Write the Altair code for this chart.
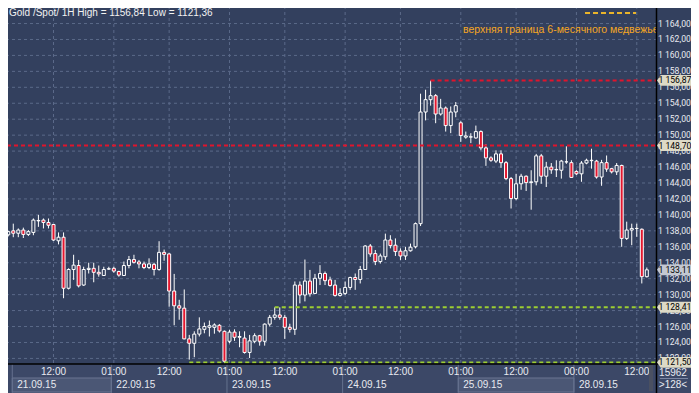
import altair as alt
import pandas as pd

# ---------------- data (hourly candles) ----------------
opens = [1137.5, 1138.0, 1137.7, 1138.1, 1137.55, 1137.8, 1139.25, 1139.35, 1139.05, 1138.8,
         1136.75, 1137.2, 1130.8, 1133.15, 1133.65, 1131.2, 1133.15, 1133.3, 1132.8, 1132.4,
         1133.2, 1133.3, 1132.9, 1132.4, 1133.65, 1134.4, 1134.1, 1133.85, 1133.4, 1133.8,
         1133.15, 1135.3, 1135.1, 1130.45, 1128.6, 1128.3, 1124.45, 1123.9, 1125.05, 1125.65,
         1125.9, 1125.9, 1126.15, 1125.4, 1124.15, 1125.3, 1124.65, 1124.55, 1122.75, 1124.15,
         1124.85, 1124.15, 1126.3, 1127.15, 1127.45, 1127.15, 1125.9, 1125.65, 1131.2, 1129.95,
         1131.7, 1130.15, 1132.05, 1132.65, 1131.85, 1131.2, 1129.9, 1130.15, 1130.9, 1132.15,
         1131.9, 1133.15, 1136.1, 1135.15, 1134.15, 1134.75, 1136.85, 1136.2, 1135.45, 1134.85,
         1135.5, 1136.0, 1138.9, 1152.9, 1154.45, 1154.95, 1152.65, 1153.4, 1151.2, 1152.9,
         1151.55, 1149.75, 1149.75, 1149.65, 1150.45, 1148.4, 1147.15, 1146.75, 1147.65, 1146.55,
         1144.55, 1142.05, 1143.9, 1144.85, 1144.05, 1144.15, 1147.4, 1144.85, 1146.0, 1145.65,
         1145.6, 1146.65, 1146.55, 1145.45, 1145.15, 1146.5, 1146.8, 1146.75, 1144.75, 1146.55,
         1145.8, 1145.4, 1146.2, 1137.05, 1138.1, 1138.3, 1138.2, 1132.25]
highs = [1138.0, 1138.9, 1138.3, 1138.4, 1138.1, 1139.55, 1140.0, 1139.55, 1139.55, 1138.85,
         1137.8, 1137.8, 1133.3, 1135.0, 1134.35, 1133.5, 1134.0, 1134.0, 1133.65, 1133.5,
         1133.5, 1133.5, 1133.0, 1134.15, 1134.85, 1135.0, 1134.35, 1134.15, 1134.55, 1134.0,
         1136.7, 1135.65, 1135.2, 1132.6, 1129.35, 1130.65, 1124.95, 1125.4, 1127.15, 1126.5,
         1126.75, 1126.4, 1126.3, 1125.5, 1125.6, 1125.65, 1125.4, 1125.4, 1124.95, 1125.15,
         1124.95, 1126.4, 1127.45, 1128.4, 1128.4, 1127.45, 1126.35, 1131.65, 1131.65, 1134.4,
         1133.1, 1132.6, 1133.7, 1132.9, 1132.25, 1131.85, 1130.8, 1131.65, 1132.25, 1132.65,
         1133.6, 1136.2, 1136.35, 1135.6, 1135.15, 1137.65, 1137.45, 1137.05, 1135.8, 1136.0,
         1136.4, 1139.05, 1155.2, 1155.7, 1156.84, 1155.15, 1154.55, 1153.6, 1153.6, 1154.15,
         1151.75, 1150.45, 1150.25, 1151.2, 1150.6, 1148.85, 1147.35, 1148.1, 1148.1, 1146.75,
         1144.75, 1145.15, 1145.15, 1144.95, 1145.6, 1147.65, 1147.65, 1146.65, 1146.5, 1146.85,
         1146.9, 1148.6, 1146.85, 1145.6, 1146.75, 1147.05, 1148.3, 1146.9, 1146.9, 1147.45,
         1145.9, 1146.5, 1146.3, 1139.15, 1138.9, 1138.9, 1138.3, 1133.4]
lows = [1137.3, 1137.2, 1137.2, 1137.1, 1137.35, 1137.45, 1138.5, 1138.3, 1138.3, 1136.75,
        1136.3, 1129.55, 1130.65, 1131.85, 1130.9, 1131.1, 1132.65, 1131.55, 1132.25, 1132.35,
        1133.1, 1132.75, 1132.25, 1132.35, 1133.3, 1133.9, 1133.3, 1133.2, 1133.2, 1132.4,
        1133.0, 1134.25, 1128.5, 1126.15, 1126.85, 1124.4, 1121.85, 1122.15, 1124.75, 1125.15,
        1124.75, 1125.1, 1125.25, 1121.36, 1123.9, 1124.2, 1123.4, 1122.6, 1122.05, 1123.9,
        1123.6, 1123.6, 1126.0, 1126.85, 1126.85, 1124.45, 1125.25, 1124.95, 1128.9, 1129.15,
        1129.75, 1130.1, 1131.2, 1131.2, 1131.0, 1129.75, 1129.75, 1129.95, 1130.6, 1130.6,
        1131.4, 1133.1, 1134.75, 1133.7, 1133.9, 1134.35, 1135.8, 1134.85, 1134.35, 1134.35,
        1135.4, 1135.8, 1138.6, 1151.85, 1153.7, 1151.5, 1152.45, 1150.45, 1150.25, 1152.25,
        1149.15, 1149.55, 1149.0, 1149.55, 1148.1, 1146.15, 1146.65, 1146.5, 1145.9, 1144.35,
        1140.8, 1141.85, 1143.15, 1143.0, 1140.65, 1143.7, 1143.9, 1143.5, 1145.15, 1144.75,
        1144.55, 1146.4, 1144.65, 1145.0, 1144.15, 1146.35, 1145.8, 1144.55, 1143.65, 1145.4,
        1145.2, 1145.0, 1136.0, 1136.85, 1136.2, 1137.25, 1131.4, 1132.15]
closes = [1137.9, 1137.7, 1138.1, 1137.55, 1137.9, 1139.35, 1139.3, 1139.05, 1138.7, 1136.85,
          1137.2, 1130.8, 1133.15, 1133.7, 1131.1, 1133.15, 1133.3, 1132.8, 1132.6, 1133.15,
          1133.25, 1132.95, 1132.45, 1133.65, 1134.4, 1134.05, 1133.85, 1133.4, 1133.85, 1133.15,
          1135.3, 1135.05, 1130.45, 1128.6, 1128.3, 1124.45, 1123.9, 1125.05, 1125.7, 1126.0,
          1126.1, 1126.2, 1125.45, 1121.65, 1125.3, 1124.65, 1124.75, 1122.75, 1124.2, 1124.85,
          1124.15, 1126.3, 1127.15, 1127.45, 1127.15, 1125.9, 1125.65, 1131.2, 1129.95, 1131.7,
          1130.1, 1132.05, 1132.65, 1131.75, 1131.15, 1129.9, 1130.15, 1130.9, 1132.15, 1131.9,
          1133.15, 1136.1, 1135.1, 1134.15, 1134.85, 1136.85, 1136.15, 1135.4, 1134.85, 1135.5,
          1135.95, 1138.9, 1152.9, 1154.45, 1154.95, 1152.65, 1153.4, 1151.2, 1152.9, 1153.7,
          1149.95, 1149.9, 1149.8, 1150.45, 1148.4, 1147.15, 1146.85, 1147.65, 1146.55, 1144.55,
          1142.05, 1143.9, 1144.85, 1144.05, 1144.15, 1147.4, 1144.85, 1146.0, 1145.65, 1145.7,
          1146.75, 1146.65, 1144.7, 1145.15, 1146.5, 1146.85, 1146.85, 1144.75, 1146.55, 1145.75,
          1145.4, 1146.2, 1137.05, 1138.1, 1138.3, 1138.3, 1132.25, 1133.11]

tick_idx = [9, 21, 32, 44, 55, 67, 78, 90, 101, 113, 125]
tick_lbl = ["12:00", "01:00", "12:00", "01:00", "12:00", "01:00",
            "12:00", "01:00", "12:00", "00:00", "12:00"]

day_edge = [0.8, 20.5, 43.5, 66.5, 89.5, 112.5]
day_lbl = ["21.09.15", "22.09.15", "23.09.15", "24.09.15", "25.09.15", "28.09.15"]
day_hi = [1, 0, 0, 0, 1, 0]

lvl_val = [1156.87, 1128.41, 1121.50]
lvl_from = [84, 53, 36]
lvl_col = ["#e0142c", "#9ccd32", "#9ccd32"]
full_lvl = [1148.70]

box_val = [1156.87, 1148.70, 1133.11, 1128.41, 1121.50]
box_col = ["#dddac6", "#dddac6", "#c3c8d2", "#dddac6", "#dddac6"]

y_ticks = list(range(1122, 1166, 2))

title_txt = "Gold /Spot/ 1H High = 1156,84 Low = 1121,36"
legend_txt = "верхняя граница 6-месячного медвежьего тренда"
bars_total = "15962"
bars_visible = ">128<"

# ---------------- layout / style ----------------
W, H = 656, 364
XMIN, XMAX = -0.646, 127.83
YMIN, YMAX = 1121.3, 1166.95
BG = "#33405e"
PANEL = "#3c4867"
GRID = "#5b6989"
TXT = "#e8eaf0"
RED = "#e4172f"
FONT = "Liberation Sans, Arial, sans-serif"
AXFONT = "Roboto, Liberation Sans, sans-serif"
AXFS = 8.6


def ru_num(v):
    return f"{v:,.2f}".replace(",", " ").replace(".", ",")


n = len(opens)
df = pd.DataFrame({"i": list(range(n)), "o": opens, "h": highs, "l": lows, "c": closes})
ticks = pd.DataFrame({"i": tick_idx, "t": tick_lbl})
end = day_edge[1:] + [XMAX]
days = pd.DataFrame({"edge": day_edge, "end": end, "lab": day_lbl, "hi": day_hi})
lv = pd.DataFrame({"v": lvl_val, "s": lvl_from, "col": lvl_col})
fl = pd.DataFrame({"v": full_lvl})
boxes = pd.DataFrame({"v": box_val, "col": box_col, "lab": [ru_num(v) for v in box_val]})
yt = pd.DataFrame({"v": y_ticks, "lab": [ru_num(v) for v in y_ticks]})
one = pd.DataFrame({"k": [0]})

xs = alt.Scale(domain=[XMIN, XMAX], nice=False, zero=False)
ys = alt.Scale(domain=[YMIN, YMAX], nice=False, zero=False)


def X(f):
    return alt.X(f, scale=xs, axis=None)


def Y(f):
    return alt.Y(f, scale=ys, axis=None)


panel = alt.Chart(one).mark_rect(color=PANEL).encode(
    x=alt.value(0), x2=alt.value(699), y=alt.value(364), y2=alt.value(400))

hi_boxes = alt.Chart(days).transform_filter("datum.hi == 1").mark_rect(
    fill="#4b5775", stroke="#6a7592", strokeWidth=1).encode(
    x=X("edge:Q"), x2="end:Q", y=alt.value(378), y2=alt.value(392))

seps = alt.Chart(days).mark_rule(color="#65718e", strokeWidth=1).encode(
    x=X("edge:Q"), y=alt.value(364), y2=alt.value(393))

day_text = alt.Chart(days).mark_text(align="left", baseline="middle", dx=5,
                                     font=FONT, fontSize=10, color=TXT).encode(
    x=X("edge:Q"), y=alt.value(385), text="lab:N")

time_text = alt.Chart(ticks).mark_text(align="center", baseline="middle",
                                       font=FONT, fontSize=10, color=TXT).encode(
    x=X("i:Q"), y=alt.value(372), text="t:N")

vgrid = alt.Chart(ticks).mark_rule(color=GRID, strokeDash=[3, 3], strokeWidth=1).encode(
    x=X("i:Q"), y=alt.value(0), y2=alt.value(364))

hgrid = alt.Chart(yt).mark_rule(color=GRID, strokeDash=[3, 3], strokeWidth=1).encode(
    x=alt.value(0), x2=alt.value(W), y=Y("v:Q"))

ylabels = alt.Chart(yt).mark_text(align="left", baseline="middle", font=AXFONT,
                                  fontSize=AXFS, color=TXT).encode(
    x=alt.value(658), y=Y("v:Q"), text="lab:N")

wicks = alt.Chart(df).mark_rule(color="#ffffff", strokeWidth=1).encode(
    x=X("i:Q"), y=Y("l:Q"), y2="h:Q")

bodies = alt.Chart(df).mark_bar(size=3, stroke="#ffffff", strokeWidth=1).encode(
    x=X("i:Q"), y=Y("o:Q"), y2="c:Q",
    fill=alt.condition("datum.c >= datum.o", alt.value(BG), alt.value(RED)))

lines = alt.Chart(lv).mark_rule(strokeDash=[4, 3], strokeWidth=2).encode(
    x=X("s:Q"), x2=alt.value(W), y=Y("v:Q"), color=alt.Color("col:N", scale=None))

full_line = alt.Chart(fl).mark_rule(strokeDash=[4, 3], strokeWidth=2, color="#e0142c").encode(
    x=alt.value(0), x2=alt.value(W), y=Y("v:Q"))

BOX = "M-1,0L-0.78,-0.32L1,-0.32L1,0.32L-0.78,0.32Z"
pboxes = alt.Chart(boxes).mark_point(shape=BOX, size=1156, filled=True, opacity=1,
                                     strokeWidth=0).encode(
    x=alt.value(674), y=Y("v:Q"), fill=alt.Color("col:N", scale=None))

ptext = alt.Chart(boxes).mark_text(align="left", baseline="middle", font=AXFONT,
                                   fontSize=AXFS, color="#000000").encode(
    x=alt.value(658.5), y=Y("v:Q"), text="lab:N")

leg_line = alt.Chart(one).mark_rule(color="#eab42a", strokeDash=[5, 3], strokeWidth=2).encode(
    x=alt.value(585), x2=alt.value(636), y=alt.value(13))

leg_text = alt.Chart(one).mark_text(align="left", baseline="middle", font=FONT,
                                    fontSize=10.5, color="#f5a623", clip=True,
                                    text=legend_txt).encode(
    x=alt.value(463), y=alt.value(30))

title = alt.Chart(one).mark_text(align="left", baseline="middle", font=FONT,
                                 fontSize=10, color="#f2f2f2", text=title_txt).encode(
    x=alt.value(9), y=alt.value(13))

vline = alt.Chart(one).mark_rule(color="#000000", strokeWidth=1.5).encode(
    x=alt.value(656.5), y=alt.value(0), y2=alt.value(400))
hline = alt.Chart(one).mark_rule(color="#000000", strokeWidth=1.5).encode(
    x=alt.value(0), x2=alt.value(699), y=alt.value(364))

thumb = alt.Chart(one).mark_rect(color="#4a5061").encode(
    x=alt.value(649), x2=alt.value(653), y=alt.value(365), y2=alt.value(391))

cnt1 = alt.Chart(one).mark_text(align="center", baseline="middle", font=FONT,
                                fontSize=10, color=TXT, text=bars_total).encode(
    x=alt.value(673), y=alt.value(373))
cnt_sep = alt.Chart(one).mark_rule(color="#7b86a2", strokeWidth=1).encode(
    x=alt.value(660), x2=alt.value(688), y=alt.value(378.5))
cnt2 = alt.Chart(one).mark_text(align="center", baseline="middle", font=FONT,
                                fontSize=10, color=TXT, text=bars_visible).encode(
    x=alt.value(673), y=alt.value(385))

chart = alt.layer(
    panel, hi_boxes, seps, day_text, time_text, vgrid, hgrid, ylabels,
    wicks, bodies, lines, full_line, leg_line, leg_text, title,
    vline, hline, thumb, cnt1, cnt_sep, cnt2, pboxes, ptext
).properties(
    width=W, height=H,
    padding={"left": -8, "top": -8, "right": 35, "bottom": 29},
    autosize=alt.AutoSizeParams(type="none"),
    background=BG
).configure_view(fill=BG, stroke=None)

chart.save("out.html", embed_options={"renderer": "svg", "actions": False})
